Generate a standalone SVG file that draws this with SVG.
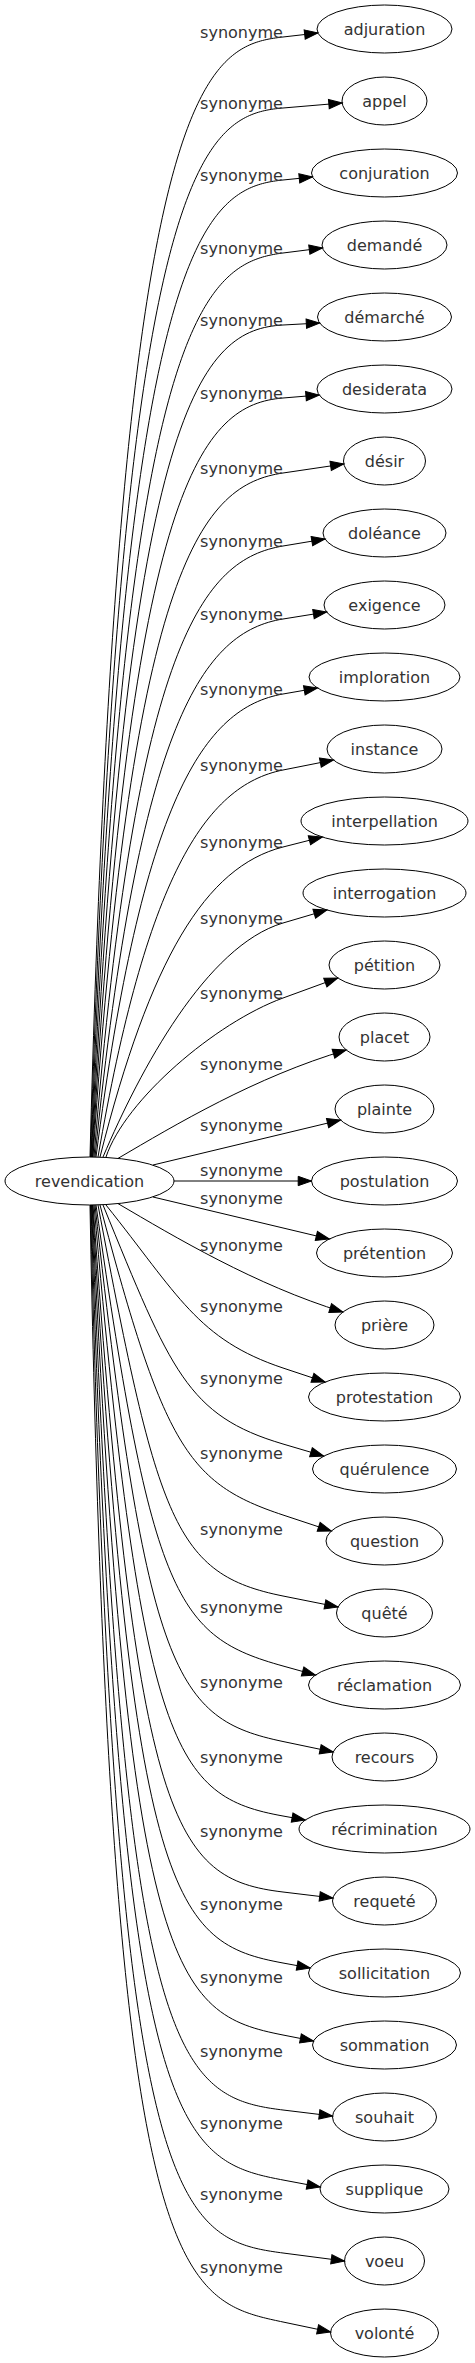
<svg xmlns="http://www.w3.org/2000/svg" width="475" height="2363" viewBox="0 0 475 2363">
<defs>
<style>
.node ellipse{fill:none;stroke:#000;stroke-width:1}
.node text{font-family:"DejaVu Sans","Liberation Sans",sans-serif;font-size:16px;fill:#333;text-anchor:middle}
.edge path{fill:none;stroke:#000;stroke-width:1;marker-end:url(#arrow)}
.edge text{font-family:"DejaVu Sans","Liberation Sans",sans-serif;font-size:16px;fill:#333;text-anchor:middle}
</style>
<marker id="arrow" markerUnits="userSpaceOnUse" markerWidth="16" markerHeight="12" viewBox="-1 -1 16 12" refX="13.3" refY="5" orient="auto" overflow="visible">
<polygon points="0,0.33 13.3,5 0,9.67" fill="#000" stroke="#000" stroke-width="1"/>
</marker>
</defs>
<rect x="0" y="0" width="475" height="2363" fill="#fff"/>
<g id="edges">
<g class="edge" id="e-adjuration"><path d="M90,1157 C118,79 203.5,46.1 283,37 L317.9,33"/><text x="241.5" y="38">synonyme</text></g>
<g class="edge" id="e-appel"><path d="M90.5,1157 C120.5,159 203.3,114.7 283,108 L342.1,103"/><text x="241.5" y="109">synonyme</text></g>
<g class="edge" id="e-conjuration"><path d="M91,1157 C123,239 203.4,188.1 283,180 L312.5,177"/><text x="241.5" y="181">synonyme</text></g>
<g class="edge" id="e-demande"><path d="M91.5,1157 C125.5,319 203.6,263 283,253 L322.5,248"/><text x="241.5" y="254">synonyme</text></g>
<g class="edge" id="e-demarche"><path d="M92,1157 C128,399 203.1,329.4 283,325 L319.6,323"/><text x="241.5" y="326">synonyme</text></g>
<g class="edge" id="e-desiderata"><path d="M92.5,1157 C130.5,479 203.3,404.6 283,398 L319.2,395"/><text x="241.5" y="399">synonyme</text></g>
<g class="edge" id="e-desir"><path d="M93,1157 C133,559 203.9,484.7 283,473 L343.8,464"/><text x="241.5" y="474">synonyme</text></g>
<g class="edge" id="e-doleance"><path d="M94,1157 C136,639 204.1,559.2 283,546 L325,539"/><text x="241.5" y="547">synonyme</text></g>
<g class="edge" id="e-exigence"><path d="M95,1157 C139,719 204,631.7 283,619 L326.6,612"/><text x="241.5" y="620">synonyme</text></g>
<g class="edge" id="e-imploration"><path d="M96,1157 C142,799 204.2,707.7 283,694 L317.4,688"/><text x="241.5" y="695">synonyme</text></g>
<g class="edge" id="e-instance"><path d="M98,1157 C146,879 204.5,785.6 283,770 L333.4,760"/><text x="241.5" y="771">synonyme</text></g>
<g class="edge" id="e-interpellation"><path d="M100,1157 C150,959 205.5,866.7 283,847 L322.3,837"/><text x="241.5" y="848">synonyme</text></g>
<g class="edge" id="e-interrogation"><path d="M103,1157 C140,1070 206.3,945.7 283,923 L327,910"/><text x="241.5" y="924">synonyme</text></g>
<g class="edge" id="e-petition"><path d="M106,1157 C125,1100 215.4,1022.7 283,998 L337.8,978"/><text x="241.5" y="999">synonyme</text></g>
<g class="edge" id="e-placet"><path d="M118,1158.4 C175,1125 255,1077 346.2,1050"/><text x="241.5" y="1070">synonyme</text></g>
<g class="edge" id="e-plainte"><path d="M153,1165 L340.5,1120"/><text x="241.5" y="1131">synonyme</text></g>
<g class="edge" id="e-postulation"><path d="M174,1181 L311.5,1181"/><text x="241.5" y="1176">synonyme</text></g>
<g class="edge" id="e-pretention"><path d="M153,1197 L329.3,1239"/><text x="241.5" y="1204">synonyme</text></g>
<g class="edge" id="e-priere"><path d="M118,1203.6 C175,1237 255,1285 342.9,1312"/><text x="241.5" y="1251">synonyme</text></g>
<g class="edge" id="e-protestation"><path d="M106,1205 C178,1295 197.6,1339.6 283,1368 L325.1,1382"/><text x="241.5" y="1312">synonyme</text></g>
<g class="edge" id="e-querulence"><path d="M103,1205 C171,1371 187.1,1415.7 283,1444 L323.7,1456"/><text x="241.5" y="1384">synonyme</text></g>
<g class="edge" id="e-question"><path d="M100,1205 C164,1447 188.1,1483.6 283,1515 L331.3,1531"/><text x="241.5" y="1459">synonyme</text></g>
<g class="edge" id="e-quete"><path d="M98,1205 C158,1523 175.2,1574.4 283,1596 L338,1607"/><text x="241.5" y="1535">synonyme</text></g>
<g class="edge" id="e-reclamation"><path d="M96,1205 C152,1599 177,1636.6 283,1666 L315.4,1675"/><text x="241.5" y="1613">synonyme</text></g>
<g class="edge" id="e-recours"><path d="M95,1205 C147,1675 175.3,1719 283,1741.5 L333.2,1752"/><text x="241.5" y="1688">synonyme</text></g>
<g class="edge" id="e-recrimination"><path d="M94,1205 C142,1751 174.8,1796.5 283,1816 L305.2,1820"/><text x="241.5" y="1763">synonyme</text></g>
<g class="edge" id="e-requete"><path d="M93,1205 C137,1827 173.8,1878.9 283,1892 L332.9,1898"/><text x="241.5" y="1837">synonyme</text></g>
<g class="edge" id="e-sollicitation"><path d="M92.5,1205 C132.5,1903 174.8,1943.1 283,1963 L310.2,1968"/><text x="241.5" y="1910">synonyme</text></g>
<g class="edge" id="e-sommation"><path d="M92,1205 C128,1979 175.1,2013.8 283,2035 L313.5,2041"/><text x="241.5" y="1983">synonyme</text></g>
<g class="edge" id="e-souhait"><path d="M91.5,1205 C123.5,2055 173.8,2096.8 283,2110 L332.5,2116"/><text x="241.5" y="2057">synonyme</text></g>
<g class="edge" id="e-supplique"><path d="M91,1205 C119,2131 174.9,2159.6 283,2180 L320.2,2187"/><text x="241.5" y="2129">synonyme</text></g>
<g class="edge" id="e-voeu"><path d="M90.5,1205 C114.5,2207 173.9,2238.8 283,2253 L344.5,2261"/><text x="241.5" y="2200">synonyme</text></g>
<g class="edge" id="e-volonte"><path d="M90,1205 C110,2283 175.4,2299.4 283,2322 L330.6,2332"/><text x="241.5" y="2273">synonyme</text></g>
</g>
<g id="n-revendication" class="node"><ellipse cx="89.5" cy="1181" rx="84.5" ry="24"/><text x="89.5" y="1186.5">revendication</text></g>
<g id="n-adjuration" class="node"><ellipse cx="384.5" cy="29" rx="67.5" ry="24"/><text x="384.5" y="34.5">adjuration</text></g>
<g id="n-appel" class="node"><ellipse cx="384.5" cy="101" rx="42.5" ry="24"/><text x="384.5" y="106.5">appel</text></g>
<g id="n-conjuration" class="node"><ellipse cx="384.5" cy="173" rx="73" ry="24"/><text x="384.5" y="178.5">conjuration</text></g>
<g id="n-demande" class="node"><ellipse cx="384.5" cy="245" rx="62.5" ry="24"/><text x="384.5" y="250.5">demandé</text></g>
<g id="n-demarche" class="node"><ellipse cx="384.5" cy="317" rx="67" ry="24"/><text x="384.5" y="322.5">démarché</text></g>
<g id="n-desiderata" class="node"><ellipse cx="384.5" cy="389" rx="67.5" ry="24"/><text x="384.5" y="394.5">desiderata</text></g>
<g id="n-desir" class="node"><ellipse cx="384.5" cy="461" rx="41" ry="24"/><text x="384.5" y="466.5">désir</text></g>
<g id="n-doleance" class="node"><ellipse cx="384.5" cy="533" rx="61.5" ry="24"/><text x="384.5" y="538.5">doléance</text></g>
<g id="n-exigence" class="node"><ellipse cx="384.5" cy="605" rx="60.5" ry="24"/><text x="384.5" y="610.5">exigence</text></g>
<g id="n-imploration" class="node"><ellipse cx="384.5" cy="677" rx="75.5" ry="24"/><text x="384.5" y="682.5">imploration</text></g>
<g id="n-instance" class="node"><ellipse cx="384.5" cy="749" rx="57.5" ry="24"/><text x="384.5" y="754.5">instance</text></g>
<g id="n-interpellation" class="node"><ellipse cx="384.5" cy="821" rx="83.5" ry="24"/><text x="384.5" y="826.5">interpellation</text></g>
<g id="n-interrogation" class="node"><ellipse cx="384.5" cy="893" rx="81.5" ry="24"/><text x="384.5" y="898.5">interrogation</text></g>
<g id="n-petition" class="node"><ellipse cx="384.5" cy="965" rx="55.5" ry="24"/><text x="384.5" y="970.5">pétition</text></g>
<g id="n-placet" class="node"><ellipse cx="384.5" cy="1037" rx="45.5" ry="24"/><text x="384.5" y="1042.5">placet</text></g>
<g id="n-plainte" class="node"><ellipse cx="384.5" cy="1109" rx="49.5" ry="24"/><text x="384.5" y="1114.5">plainte</text></g>
<g id="n-postulation" class="node"><ellipse cx="384.5" cy="1181" rx="73" ry="24"/><text x="384.5" y="1186.5">postulation</text></g>
<g id="n-pretention" class="node"><ellipse cx="384.5" cy="1253" rx="68" ry="24"/><text x="384.5" y="1258.5">prétention</text></g>
<g id="n-priere" class="node"><ellipse cx="384.5" cy="1325" rx="49.5" ry="24"/><text x="384.5" y="1330.5">prière</text></g>
<g id="n-protestation" class="node"><ellipse cx="384.5" cy="1397" rx="76" ry="24"/><text x="384.5" y="1402.5">protestation</text></g>
<g id="n-querulence" class="node"><ellipse cx="384.5" cy="1469" rx="72" ry="24"/><text x="384.5" y="1474.5">quérulence</text></g>
<g id="n-question" class="node"><ellipse cx="384.5" cy="1541" rx="58.5" ry="24"/><text x="384.5" y="1546.5">question</text></g>
<g id="n-quete" class="node"><ellipse cx="384.5" cy="1613" rx="48" ry="24"/><text x="384.5" y="1618.5">quêté</text></g>
<g id="n-reclamation" class="node"><ellipse cx="384.5" cy="1685" rx="76" ry="24"/><text x="384.5" y="1690.5">réclamation</text></g>
<g id="n-recours" class="node"><ellipse cx="384.5" cy="1757" rx="52.5" ry="24"/><text x="384.5" y="1762.5">recours</text></g>
<g id="n-recrimination" class="node"><ellipse cx="384.5" cy="1829" rx="85.5" ry="24"/><text x="384.5" y="1834.5">récrimination</text></g>
<g id="n-requete" class="node"><ellipse cx="384.5" cy="1901" rx="52" ry="24"/><text x="384.5" y="1906.5">requeté</text></g>
<g id="n-sollicitation" class="node"><ellipse cx="384.5" cy="1973" rx="76" ry="24"/><text x="384.5" y="1978.5">sollicitation</text></g>
<g id="n-sommation" class="node"><ellipse cx="384.5" cy="2045" rx="72" ry="24"/><text x="384.5" y="2050.5">sommation</text></g>
<g id="n-souhait" class="node"><ellipse cx="384.5" cy="2117" rx="52" ry="24"/><text x="384.5" y="2122.5">souhait</text></g>
<g id="n-supplique" class="node"><ellipse cx="384.5" cy="2189" rx="64.5" ry="24"/><text x="384.5" y="2194.5">supplique</text></g>
<g id="n-voeu" class="node"><ellipse cx="384.5" cy="2261" rx="40" ry="24"/><text x="384.5" y="2266.5">voeu</text></g>
<g id="n-volonte" class="node"><ellipse cx="384.5" cy="2333" rx="54" ry="24"/><text x="384.5" y="2338.5">volonté</text></g>
</svg>
